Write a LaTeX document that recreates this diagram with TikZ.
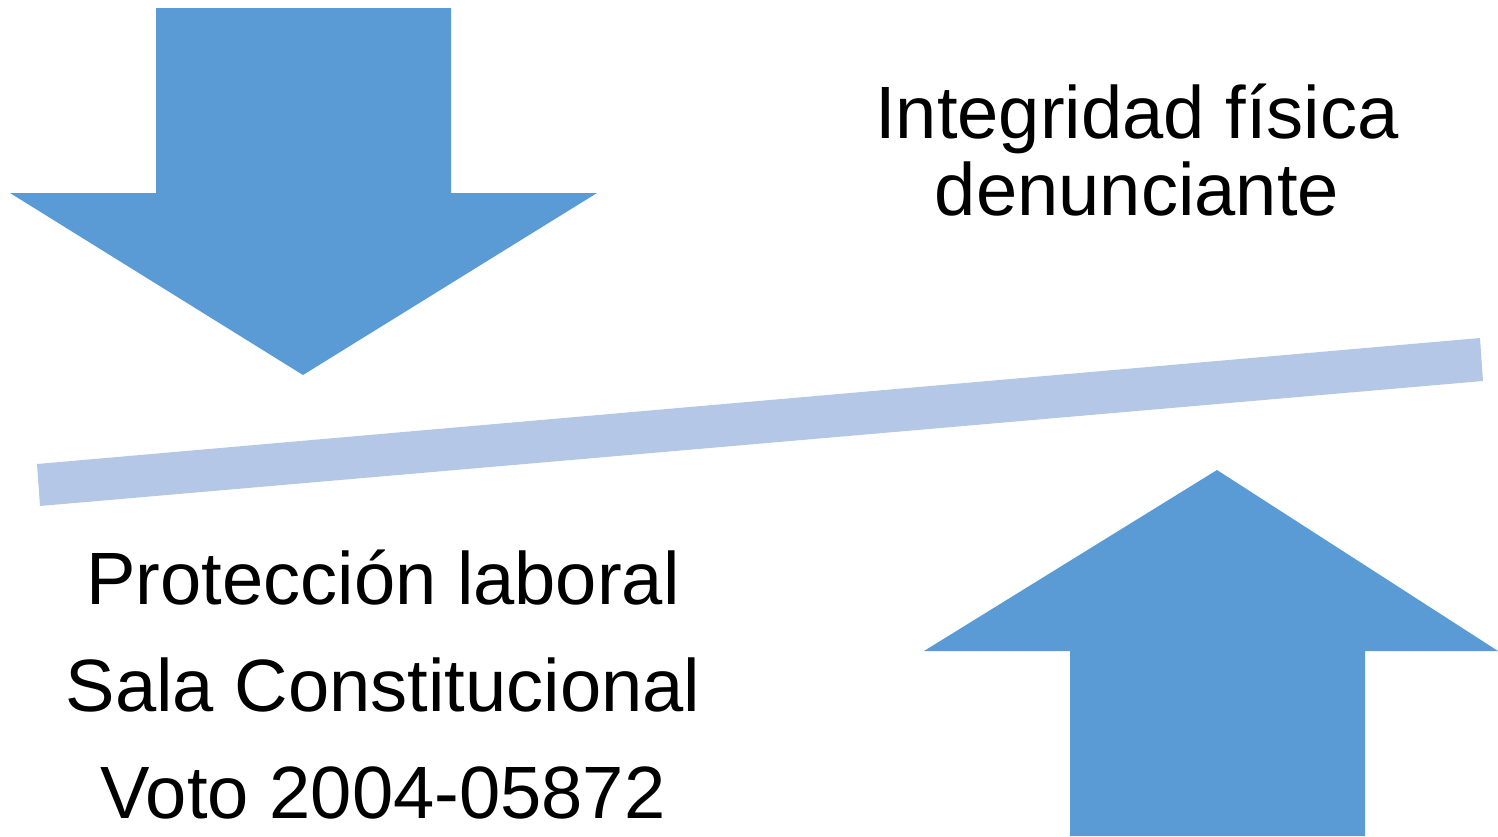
\documentclass[tikz,border=0pt]{standalone}
\usepackage{fontspec}
\setmainfont{Liberation Sans}
\definecolor{arrowblue}{HTML}{5B9BD5}
\definecolor{barblue}{HTML}{B4C7E7}

\begin{document}
\begin{tikzpicture}[x=0.02cm,y=-0.02cm,
  bigarrow/.style={fill=arrowblue,draw=none},
  label/.style={anchor=base,inner sep=0pt,font=\fontsize{42.2}{44}\selectfont}]
\useasboundingbox (0,0) rectangle (1498,836);

%arrow pointing down
\fill[bigarrow] (156,8) -- (451,8) -- (451,193) -- (597,193) -- (303,375)
  -- (10,193) -- (156,193) -- cycle;
%arrow pointing up
\fill[bigarrow] (1070,836) -- (1365,836) -- (1365,651) -- (1498,651) -- (1217,470)
  -- (924,651) -- (1070,651) -- cycle;
%tilted beam
\fill[barblue] (37,464) -- (1480,338) -- (1483,381) -- (40,506) -- cycle;

%labels
\node[label] (fis1) at (1137,138) {Integridad física};
\node[label] (fis2) at (1137,215) {denunciante};
\node[label] (lab1) at (383,604) {Protección laboral};
\node[label] (lab2) at (383,711) {Sala Constitucional};
\node[label] (lab3) at (383,818) {Voto 2004-05872};
\end{tikzpicture}
\end{document}
